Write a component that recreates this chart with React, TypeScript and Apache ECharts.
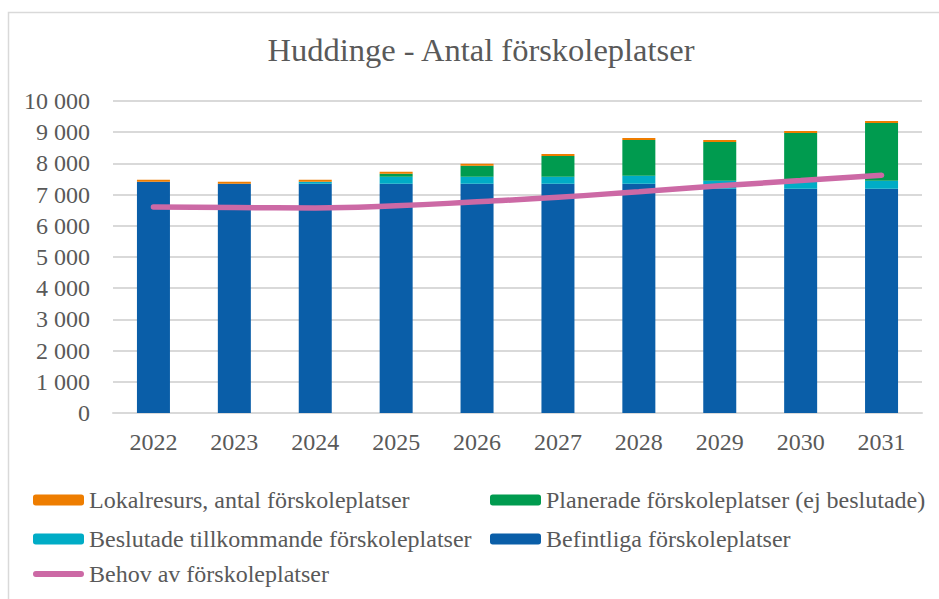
import React, { useEffect, useRef } from "react";
import * as echarts from "echarts";

const years = ["2022", "2023", "2024", "2025", "2026", "2027", "2028", "2029", "2030", "2031"];
const befintliga = [7410, 7345, 7345, 7345, 7345, 7345, 7345, 7185, 7185, 7185];
const beslutade = [0, 0, 64, 224, 224, 224, 256, 256, 256, 256];
const planerade = [0, 0, 0, 96, 352, 672, 1152, 1248, 1536, 1856];
const lokalresurs = [62, 64, 64, 64, 64, 64, 64, 64, 64, 64];
const behov = [6600, 6585, 6570, 6640, 6770, 6915, 7095, 7280, 7450, 7620];

const FONT = "'Liberation Serif', 'Times New Roman', serif";
const GRAY = "#595959";

const C_BLUE = "#0A5EA8";
const C_CYAN = "#00ACC6";
const C_GREEN = "#009B4F";
const C_ORANGE = "#EE7D00";
const C_PINK = "#CC69A5";

export default function App() {
  const ref = useRef<HTMLDivElement>(null);
  useEffect(() => {
    if (!ref.current) return;
    const chart = echarts.init(ref.current, null, { renderer: "svg" });
    const legendBase = {
      orient: "horizontal",
      itemWidth: 51,
      itemHeight: 11,
      itemGap: 0,
      textStyle: { fontFamily: FONT, fontSize: 24, color: GRAY, padding: [0, 0, 0, 0] },
      selectedMode: false,
      padding: 0,
    };
    chart.setOption({
      animation: false,
      backgroundColor: "#ffffff",
      title: {
        text: "Huddinge - Antal förskoleplatser",
        left: 476,
        top: 28,
        textAlign: "center",
        textStyle: { fontFamily: FONT, fontSize: 32.5, fontWeight: "normal", color: GRAY },
      },
      graphic: [
        {
          type: "rect",
          shape: { x: 8.5, y: 12.5, width: 940, height: 600 },
          style: { fill: "none", stroke: "#d9d9d9", lineWidth: 1.5 },
          silent: true,
        },
      ],
      legend: [
        { ...legendBase, left: 33, top: 488, data: [{ name: "Lokalresurs, antal förskoleplatser" }] },
        { ...legendBase, left: 490, top: 488, data: [{ name: "Planerade förskoleplatser (ej beslutade)" }] },
        { ...legendBase, left: 33, top: 527, data: [{ name: "Beslutade tillkommande förskoleplatser" }] },
        { ...legendBase, left: 490, top: 527, data: [{ name: "Befintliga förskoleplatser" }] },
        {
          ...legendBase,
          left: 33,
          top: 562,
          itemHeight: 14,
          data: [{ name: "Behov av förskoleplatser", icon: "path://M2,4 L48,4 A3,3 0 0 1 48,10 L2,10 A3,3 0 0 1 2,4 Z" }],
        },
      ],
      grid: { left: 113, right: 17, top: 101, bottom: 186, containLabel: false },
      xAxis: {
        type: "category",
        data: years,
        axisLine: { lineStyle: { color: "#d9d9d9", width: 2 } },
        axisTick: { show: false },
        axisLabel: { fontFamily: FONT, fontSize: 24, color: GRAY, margin: 17 },
      },
      yAxis: {
        type: "value",
        min: 0,
        max: 10000,
        interval: 1000,
        axisLine: { show: false },
        axisTick: { show: false },
        splitLine: { lineStyle: { color: "#d9d9d9", width: 2 } },
        axisLabel: {
          fontFamily: FONT,
          fontSize: 24,
          color: GRAY,
          margin: 23,
          formatter: (v: number) => String(v).replace(/\B(?=(\d{3})+(?!\d))/g, " "),
        },
      },
      series: [
        {
          name: "Befintliga förskoleplatser",
          type: "bar",
          stack: "s",
          barWidth: 33,
          data: befintliga,
          itemStyle: { color: C_BLUE },
        },
        {
          name: "Beslutade tillkommande förskoleplatser",
          type: "bar",
          stack: "s",
          barWidth: 33,
          data: beslutade,
          itemStyle: { color: C_CYAN },
        },
        {
          name: "Planerade förskoleplatser (ej beslutade)",
          type: "bar",
          stack: "s",
          barWidth: 33,
          data: planerade,
          itemStyle: { color: C_GREEN },
        },
        {
          name: "Lokalresurs, antal förskoleplatser",
          type: "bar",
          stack: "s",
          barWidth: 33,
          data: lokalresurs,
          itemStyle: { color: C_ORANGE },
        },
        {
          name: "Behov av förskoleplatser",
          type: "line",
          data: behov,
          smooth: true,
          symbol: "none",
          lineStyle: { color: C_PINK, width: 5.5, cap: "round" },
          itemStyle: { color: C_PINK },
          z: 5,
        },
      ],
    });
    return () => chart.dispose();
  }, []);
  return (
    <div
      ref={ref}
      style={{ position: "fixed", left: 0, top: 0, width: 939, height: 599, background: "#fff" }}
    />
  );
}
